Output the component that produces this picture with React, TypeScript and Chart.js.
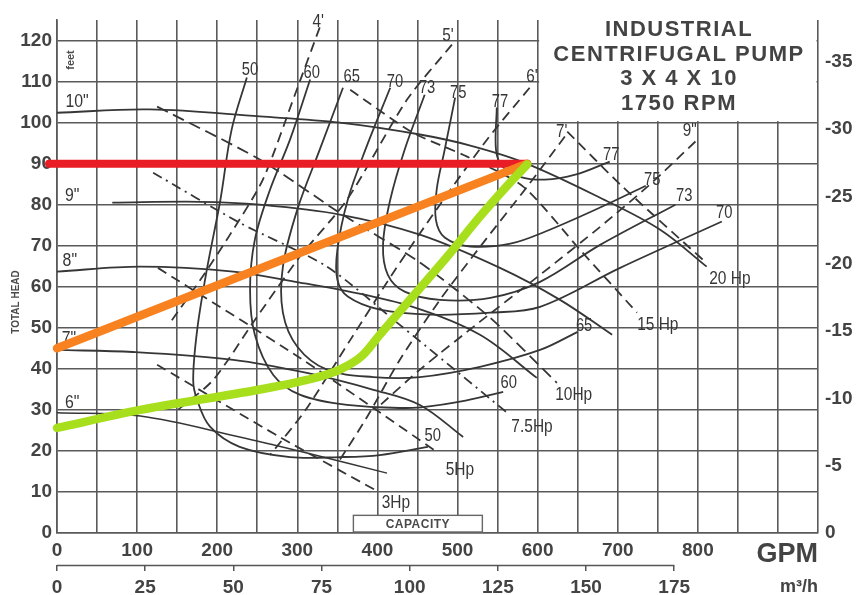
import { useEffect, useRef } from 'react';
import { Chart, registerables } from 'chart.js';

Chart.register(...registerables);

type Pt = [number, number];

// ---- axes ----
const GPM_MAX = 950;
const FT_MAX = 125;
const FT_PER_M = 3.28084;
const GPM_PER_M3H = 4.40287;
const GPM_LABELS = [0, 100, 200, 300, 400, 500, 600, 700, 800];
const M3H_LABELS = [0, 25, 50, 75, 100, 125, 150, 175];
const TITLE_LINES = ['INDUSTRIAL', 'CENTRIFUGAL PUMP', '3 X 4 X 10', '1750 RPM'];

// ---- impeller head curves (GPM, feet) ----
const HEAD_10: Pt[] = [[0, 102.4], [116, 103.2], [253, 101.5], [353, 100], [453, 97.1], [516, 94.4], [584, 90.2], [678, 81.7], [753, 73.9], [811, 64.9]];
const HEAD_9: Pt[] = [[69, 80.5], [178, 80.7], [253, 80], [353, 77.6], [453, 72.7], [553, 64.6], [628, 56.8], [693, 48.3]];
const HEAD_8: Pt[] = [[0, 63.7], [104, 64.9], [220, 63.7], [303, 61], [353, 59.3], [444, 55.1], [528, 48.3], [599, 37.8]];
const HEAD_7: Pt[] = [[0, 44.6], [95, 44.1], [220, 42.2], [312, 39], [395, 34.9], [453, 31.2], [507, 23.4]];
const HEAD_6: Pt[] = [[0, 29.3], [104, 28.5], [228, 23.4], [312, 19.5], [412, 14.6]];

// ---- efficiency contours (%) ----
const EFF_50: Pt[] = [[237, 111], [218, 98.3], [204, 81.2], [187, 64.1], [175, 49.5], [170, 37.3], [175, 32.4], [191, 25.9], [228, 21], [291, 18.5], [353, 18.5], [403, 19], [463, 21]];
const EFF_60: Pt[] = [[316, 110.5], [291, 95.9], [266, 83.7], [247, 71.5], [241, 59.3], [247, 48.3], [270, 38.5], [303, 33.7], [362, 31.2], [444, 30.5], [503, 32], [557, 34.4]];
const EFF_65: Pt[] = [[357, 108.5], [328, 93.4], [300, 78.8], [282, 64.9], [282, 53.7], [300, 45.4], [337, 39.8], [395, 38], [453, 38], [528, 40.5], [603, 44.6], [650, 49]];
const EFF_70: Pt[] = [[416, 108.5], [385, 93.4], [363, 81.2], [350, 69], [350, 61.7], [363, 57.6], [403, 54.4], [466, 53.2], [541, 53.7], [603, 55.1], [703, 64.6], [830, 75.9]];
const EFF_73: Pt[] = [[459, 106.8], [434, 93.4], [416, 81.2], [407, 70.2], [413, 62.9], [434, 58.8], [478, 56.8], [541, 57.3], [603, 61.2], [678, 70.2], [772, 80]];
const EFF_75: Pt[] = [[497, 106.1], [484, 93.4], [474, 83.7], [473, 76.3], [484, 72], [516, 69.8], [566, 70.5], [609, 73.4], [678, 79.3], [735, 84.6]];
const EFF_77: Pt[] = [[549, 103.7], [548, 93.4], [556, 89.3], [578, 86.8], [609, 86.1], [647, 87.3], [690, 90.5]];

// ---- brake horsepower lines ----
const HP_20: Pt[] = [[637, 97.8], [706, 84.4], [809, 66.1]];
const HP_15: Pt[] = [[366, 108], [444, 97.6], [512, 91.7], [582, 84.4], [653, 69], [724, 53.7]];
const HP_10: Pt[] = [[125, 103.9], [253, 91], [353, 78], [453, 65.9], [541, 52.4], [624, 36.6]];
const HP_7_5: Pt[] = [[120, 87.8], [228, 75.6], [337, 64.9], [428, 50.7], [562, 29.3]];
const HP_5: Pt[] = [[126, 64.6], [303, 42.7], [474, 19.8]];
const HP_3: Pt[] = [[125, 41], [278, 23.4], [397, 10.5]];

// ---- NPSH required lines ----
const NPSH_4: Pt[] = [[328, 123.2], [297, 106.8], [257, 86.1], [216, 72.7], [179, 61.7], [141, 51.2]];
const NPSH_5: Pt[] = [[493, 119], [437, 105.6], [362, 81.2], [303, 67.3], [247, 51.9], [195, 37.3], [151, 30]];
const NPSH_6: Pt[] = [[590, 108.5], [537, 95.9], [478, 80], [422, 64.1], [366, 47], [310, 29.9], [266, 19]];
const NPSH_7: Pt[] = [[634, 96.6], [587, 84.4], [532, 70.7], [478, 56.8], [428, 42.2], [385, 27.6], [353, 17.8]];
const NPSH_9: Pt[] = [[797, 95.4], [740, 84.9], [678, 74.6], [603, 62.9], [528, 51.5], [453, 39.8], [397, 30]];

// ---- system / operating lines ----
const STATIC_HEAD: Pt[] = [[-10, 90], [587, 90]];
const LINEAR_SYSTEM: Pt[] = [[0, 45], [587, 90]];
const SYSTEM_CURVE: Pt[] = [[0, 25.6], [104, 30], [228, 34.1], [312, 37.3], [353, 39.8], [381, 43.2], [403, 48.3], [444, 57.6], [487, 67.3], [528, 77.1], [569, 86.1], [587, 89.8]];

// ---- curve annotations: [text, GPM, feet] ----
const DIAMETER_LABELS: [string, number, number][] = [['10"', 25, 104.9], ['9"', 19, 82], ['8"', 16, 66.3], ['7"', 15, 47.3], ['6"', 19, 31.7]];
const EFF_LABELS: [string, number, number][] = [
  ['50', 241, 112.7], ['60', 318, 112], ['65', 368, 111.2], ['70', 422, 110], ['73', 462, 108.5], ['75', 501, 107.3], ['77', 553, 105.1],
  ['77', 692, 92.2], ['75', 743, 86.1], ['73', 783, 82.2], ['70', 833, 78], ['65', 658, 50.5], ['60', 564, 36.6], ['50', 469, 23.7],
];
const NPSH_LABELS: [string, number, number][] = [["4'", 326, 124.6], ["5'", 488, 121], ["6'", 593, 111], ["7'", 630, 97.8], ['9"', 790, 98]];
const HP_LABELS: [string, number, number][] = [['20 Hp', 840, 62], ['15 Hp', 750, 50.7], ['10Hp', 645, 33.7], ['7.5Hp', 593, 25.9], ['5Hp', 503, 15.4], ['3Hp', 423, 7.3]];

const INK = '#363636';
const GRID = '#5a5a5a';
const LABEL = '#434343';
const FONT = '"Liberation Sans", Arial, Helvetica, sans-serif';

function toXY(pts: Pt[]) {
  return pts.map(([x, y]) => ({ x, y }));
}

function curve(label: string, pts: Pt[], extra: Record<string, unknown> = {}) {
  return {
    label,
    data: toXY(pts),
    borderColor: INK,
    borderWidth: 1.8,
    pointRadius: 0,
    tension: 0.35,
    fill: false,
    ...extra,
  };
}

function condensedText(ctx: CanvasRenderingContext2D, text: string, px: number, py: number, size: number, sx: number) {
  ctx.save();
  ctx.translate(px, py);
  ctx.scale(sx, 1);
  ctx.font = `${size}px ${FONT}`;
  ctx.textAlign = 'center';
  ctx.textBaseline = 'middle';
  ctx.fillText(text, 0, 0);
  ctx.restore();
}

const decorPlugin = {
  id: 'pumpDecor',
  beforeDatasetsDraw(chart: any) {
    const { ctx, scales } = chart;
    const x = scales.x;
    const y = scales.y;
    ctx.save();
    // blank panel for the title block
    const l = x.getPixelForValue(600) + 1.5;
    const r = x.getPixelForValue(GPM_MAX) - 1.5;
    const b = y.getPixelForValue(100) - 1.5;
    ctx.fillStyle = '#ffffff';
    ctx.fillRect(l, 0, r - l, b);

    // capacity tag
    const cl = x.getPixelForValue(370);
    const cr = x.getPixelForValue(531);
    const ct = y.getPixelForValue(4.3);
    const cb = y.getPixelForValue(0) - 1;
    ctx.fillRect(cl, ct, cr - cl, cb - ct);
    ctx.strokeStyle = '#666';
    ctx.lineWidth = 1.4;
    ctx.strokeRect(cl, ct, cr - cl, cb - ct);
    ctx.fillStyle = '#4a4a4a';
    ctx.font = `bold 12px ${FONT}`;
    ctx.textAlign = 'center';
    ctx.textBaseline = 'middle';
    (ctx as any).letterSpacing = '0.5px';
    ctx.fillText('CAPACITY', (cl + cr) / 2, (ct + cb) / 2 + 1);
    (ctx as any).letterSpacing = '0px';

    // curve annotations
    ctx.fillStyle = INK;
    for (const [t, gx, gy] of DIAMETER_LABELS) condensedText(ctx, t, x.getPixelForValue(gx), y.getPixelForValue(gy), 18, 0.88);
    for (const [t, gx, gy] of EFF_LABELS) condensedText(ctx, t, x.getPixelForValue(gx), y.getPixelForValue(gy), 18, 0.82);
    for (const [t, gx, gy] of NPSH_LABELS) condensedText(ctx, t, x.getPixelForValue(gx), y.getPixelForValue(gy), 18, 0.85);
    for (const [t, gx, gy] of HP_LABELS) condensedText(ctx, t, x.getPixelForValue(gx), y.getPixelForValue(gy), 18, 0.86);
    ctx.restore();
  },
  afterDraw(chart: any) {
    const { ctx, scales } = chart;
    const x = scales.x;
    const x2 = scales.x2;
    ctx.save();
    // title block
    ctx.fillStyle = LABEL;
    ctx.font = `bold 22px ${FONT}`;
    ctx.textAlign = 'center';
    ctx.textBaseline = 'middle';
    (ctx as any).letterSpacing = '1.5px';
    const cx = 679;
    TITLE_LINES.forEach((t, i) => ctx.fillText(t, cx, 30 + i * 24.7));
    (ctx as any).letterSpacing = '0px';

    // GPM unit
    ctx.font = `bold 27px ${FONT}`;
    ctx.textAlign = 'right';
    ctx.textBaseline = 'alphabetic';
    ctx.fillStyle = LABEL;
    ctx.fillText('GPM', x.right, 562);

    // m3/h unit
    ctx.font = `bold 18px ${FONT}`;
    ctx.fillText('m³/h', x.right, 592);

    // m3/h axis rule
    ctx.strokeStyle = '#555';
    ctx.lineWidth = 1.5;
    ctx.beginPath();
    ctx.moveTo(x2.getPixelForValue(0), x2.top + 0.5);
    ctx.lineTo(x2.getPixelForValue(175), x2.top + 0.5);
    ctx.stroke();

    // rotated captions
    ctx.fillStyle = '#4a4a4a';
    ctx.font = `bold 10px ${FONT}`;
    ctx.textAlign = 'center';
    ctx.textBaseline = 'middle';
    ctx.save();
    ctx.translate(16, 302);
    ctx.rotate(-Math.PI / 2);
    ctx.fillText('TOTAL HEAD', 0, 0);
    ctx.restore();
    ctx.save();
    ctx.translate(71, 60);
    ctx.rotate(-Math.PI / 2);
    ctx.font = `bold 11px ${FONT}`;
    ctx.fillText('feet', 0, 0);
    ctx.restore();
    ctx.restore();
  },
};

const dashed = [10, 6];

export default function App() {
  const ref = useRef<HTMLCanvasElement>(null);

  useEffect(() => {
    if (!ref.current) return;
    const tickFont = { family: FONT, size: 19, weight: 'bold' };
    const chart = new Chart(ref.current, {
      type: 'line',
      data: {
        datasets: [
          curve('System curve', SYSTEM_CURVE, { borderColor: '#a8df1d', borderWidth: 8.5, cubicInterpolationMode: 'monotone', borderCapStyle: 'round', clip: false }),
          curve('Linear system', LINEAR_SYSTEM, { borderColor: '#f7821f', borderWidth: 8.5, tension: 0, borderCapStyle: 'round', clip: false }),
          curve('Static head', STATIC_HEAD, { borderColor: '#e91d25', borderWidth: 8, tension: 0, borderCapStyle: 'round', clip: false }),
          curve('10"', HEAD_10),
          curve('9"', HEAD_9),
          curve('8"', HEAD_8),
          curve('7"', HEAD_7),
          curve('6"', HEAD_6, { borderWidth: 1.4 }),
          curve('50%', EFF_50),
          curve('60%', EFF_60),
          curve('65%', EFF_65),
          curve('70%', EFF_70),
          curve('73%', EFF_73),
          curve('75%', EFF_75),
          curve('77%', EFF_77),
          curve('20 Hp', HP_20, { borderDash: dashed, tension: 0.25 }),
          curve('15 Hp', HP_15, { borderDash: dashed, tension: 0.25 }),
          curve('10 Hp', HP_10, { borderDash: [12, 6], tension: 0.25 }),
          curve('7.5 Hp', HP_7_5, { borderDash: [10, 5, 2, 5], tension: 0.25 }),
          curve('5 Hp', HP_5, { borderDash: dashed, tension: 0.25 }),
          curve('3 Hp', HP_3, { borderDash: dashed, tension: 0.25 }),
          curve("NPSH 4'", NPSH_4, { borderDash: dashed, tension: 0.25 }),
          curve("NPSH 5'", NPSH_5, { borderDash: dashed, tension: 0.25 }),
          curve("NPSH 6'", NPSH_6, { borderDash: dashed, tension: 0.25 }),
          curve("NPSH 7'", NPSH_7, { borderDash: dashed, tension: 0.25 }),
          curve("NPSH 9'", NPSH_9, { borderDash: dashed, tension: 0.25 }),
        ] as any,
      },
      options: {
        animation: false,
        responsive: true,
        maintainAspectRatio: false,
        layout: { padding: { top: 20, left: 0, right: 0, bottom: 0 } },
        plugins: { legend: { display: false }, tooltip: { enabled: false } },
        elements: { line: { borderJoinStyle: 'round' } },
        scales: {
          x: {
            type: 'linear',
            position: 'bottom',
            weight: 0,
            min: 0,
            max: GPM_MAX,
            afterFit: (s: any) => { s.height = 32; },
            grid: { color: GRID, lineWidth: 1.6, drawTicks: false },
            border: { color: GRID, width: 1.6 },
            ticks: {
              stepSize: 50,
              autoSkip: false,
              maxRotation: 0,
              padding: 6,
              color: LABEL,
              font: tickFont,
              callback: (v: any) => (GPM_LABELS.includes(Math.round(Number(v))) ? String(Math.round(Number(v))) : ''),
            },
          },
          x2: {
            type: 'linear',
            position: 'bottom',
            weight: 1,
            min: 0,
            max: GPM_MAX / GPM_PER_M3H,
            afterFit: (s: any) => { s.height = 30; },
            grid: {
              drawOnChartArea: false,
              drawTicks: true,
              tickLength: 6,
              lineWidth: 1.5,
              color: (c: any) => (c.tick && c.tick.value <= 175.5 ? '#555' : 'rgba(0,0,0,0)'),
            },
            border: { display: false },
            ticks: {
              stepSize: 25,
              includeBounds: false,
              autoSkip: false,
              maxRotation: 0,
              padding: 5,
              color: LABEL,
              font: tickFont,
              callback: (v: any) => (M3H_LABELS.includes(Math.round(Number(v))) ? String(Math.round(Number(v))) : ''),
            },
          },
          y: {
            type: 'linear',
            position: 'left',
            min: 0,
            max: FT_MAX,
            afterFit: (s: any) => { s.width = 57; },
            grid: { color: GRID, lineWidth: 1.6, drawTicks: false },
            border: { color: GRID, width: 1.6 },
            ticks: { stepSize: 10, includeBounds: false, padding: 5, color: LABEL, font: tickFont },
          },
          y2: {
            type: 'linear',
            position: 'right',
            min: 0,
            max: FT_MAX / FT_PER_M,
            afterFit: (s: any) => { s.width = 39; },
            grid: { display: false, drawTicks: false },
            border: { display: false },
            ticks: {
              stepSize: 5,
              includeBounds: false,
              padding: 7,
              color: LABEL,
              font: tickFont,
              callback: (v: any) => (Math.round(Number(v)) === 0 ? '0' : '-' + Math.round(Number(v))),
            },
          },
        },
      } as any,
      plugins: [decorPlugin as any],
    });
    return () => chart.destroy();
  }, []);

  return (
    <div style={{ position: 'fixed', left: 0, top: 0, width: 857, height: 595, background: '#fff' }}>
      <canvas ref={ref} />
    </div>
  );
}
